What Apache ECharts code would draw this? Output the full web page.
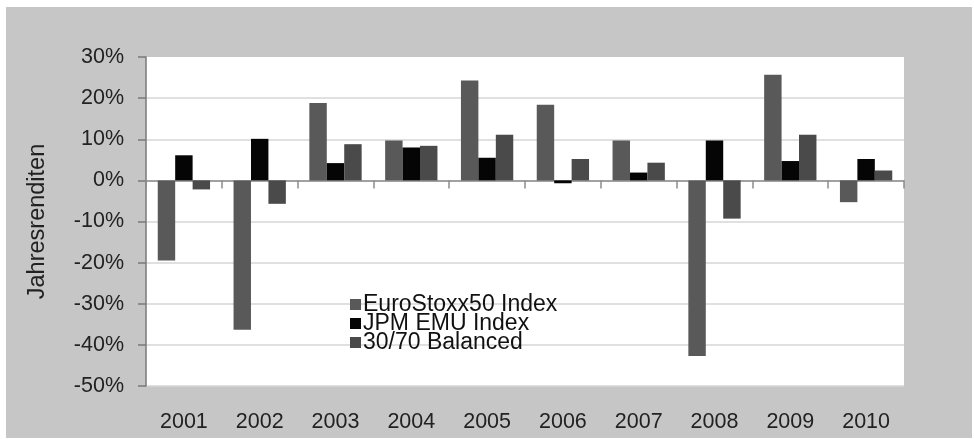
<!DOCTYPE html>
<html>
<head>
<meta charset="utf-8">
<script src="https://cdn.jsdelivr.net/npm/echarts@6/dist/echarts.min.js"></script>
<style>
  html, body { margin: 0; padding: 0; background: #ffffff; }
  #chart { position: absolute; left: 6px; top: 7px; width: 966px; height: 431px; background: #c6c6c6; }
</style>
</head>
<body>
<div id="chart"></div>
<script>
// Annual returns in percent, 2001–2010
const years = ['2001', '2002', '2003', '2004', '2005', '2006', '2007', '2008', '2009', '2010'];
const euroStoxx50 = [-19.5, -36.3, 18.8, 9.7, 24.3, 18.4, 9.7, -42.7, 25.7, -5.3];
const jpmEmu = [6.1, 10.1, 4.2, 8.0, 5.5, -0.7, 1.9, 9.7, 4.7, 5.2];
const balanced3070 = [-2.2, -5.7, 8.8, 8.4, 11.1, 5.2, 4.3, -9.3, 11.1, 2.4];
const seriesNames = ['EuroStoxx50 Index', 'JPM EMU Index', '30/70 Balanced'];
const yTicks = { min: -50, max: 30, step: 10 };

const font = 'Liberation Sans, Arial, sans-serif';
const chart = echarts.init(document.getElementById('chart'));

chart.setOption({
  animation: false,
  textStyle: { fontFamily: font },
  grid: {
    left: 140, right: 68, top: 50, bottom: 52,
    show: true, backgroundColor: '#ffffff', borderWidth: 0
  },
  legend: {
    orient: 'vertical',
    left: 339, top: 281,
    itemWidth: 11, itemHeight: 11, itemGap: -4,
    icon: 'rect',
    textStyle: { fontFamily: font, fontSize: 23, color: '#111', lineHeight: 20, padding: [0, 0, 0, -3] },
    data: seriesNames
  },
  xAxis: [
    {
      // year labels along the bottom edge
      type: 'category', data: years, position: 'bottom',
      axisLine: { show: false, onZero: false },
      axisTick: { show: false },
      axisLabel: { margin: 25, fontSize: 21.5, color: '#222', fontFamily: font },
      splitLine: { show: false }
    },
    {
      // zero line with category separators
      type: 'category', data: years, position: 'bottom',
      axisLine: { show: true, onZero: true, lineStyle: { color: '#8c8c8c', width: 1.5 } },
      axisTick: { show: true, inside: false, length: 8, lineStyle: { color: '#8c8c8c', width: 1.5 } },
      axisLabel: { show: false },
      splitLine: { show: false }
    }
  ],
  yAxis: {
    type: 'value',
    min: yTicks.min, max: yTicks.max, interval: yTicks.step,
    name: 'Jahresrenditen', nameLocation: 'middle', nameGap: 96, nameRotate: 90,
    nameTextStyle: { fontSize: 23.5, color: '#222', fontFamily: font },
    axisLine: { show: true, lineStyle: { color: '#7a7a7a', width: 1.5 } },
    axisTick: { show: true, length: 8, lineStyle: { color: '#7a7a7a', width: 1.5 } },
    axisLabel: { margin: 22, fontSize: 21.5, color: '#222', fontFamily: font, formatter: v => v + '%' },
    splitLine: {
      show: true,
      lineStyle: {
        color: ['#d6d6d6', '#d6d6d6', '#d6d6d6', '#d6d6d6', '#d6d6d6', '#d6d6d6', '#d6d6d6', '#d6d6d6', 'transparent'],
        width: 1.5
      }
    }
  },
  series: [
    { name: seriesNames[0], type: 'bar', xAxisIndex: 0, data: euroStoxx50, itemStyle: { color: '#595959' }, barGap: '0%', barCategoryGap: '31%' },
    { name: seriesNames[1], type: 'bar', xAxisIndex: 0, data: jpmEmu, itemStyle: { color: '#050505' }, barGap: '0%', barCategoryGap: '31%' },
    { name: seriesNames[2], type: 'bar', xAxisIndex: 0, data: balanced3070, itemStyle: { color: '#4a4a4a' }, barGap: '0%', barCategoryGap: '31%' }
  ]
});
</script>
</body>
</html>
